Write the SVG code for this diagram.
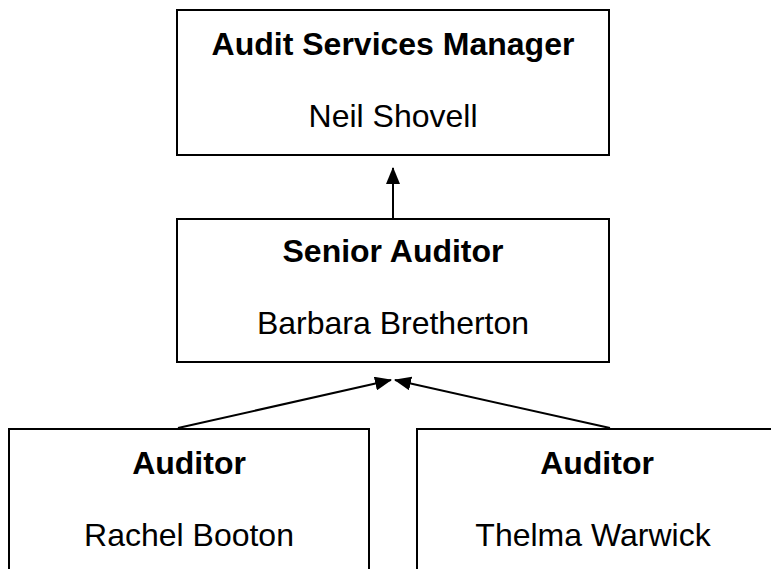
<svg xmlns="http://www.w3.org/2000/svg" width="771" height="569" viewBox="0 0 771 569">
<style>
.box{fill:#fff;stroke:#000;stroke-width:2}
.t{font-family:"Liberation Sans",Arial,sans-serif;font-size:32px;fill:#000;text-anchor:middle}
.b{font-weight:bold}
.c{stroke:#000;stroke-width:2;fill:none}
</style>
<defs>
<marker id="ah" markerWidth="17" markerHeight="14" refX="16" refY="7" orient="auto" markerUnits="userSpaceOnUse">
<path d="M0,0 L17,7 L0,14 Z" fill="#000"/>
</marker>
</defs>
<rect width="771" height="569" fill="#fff"/>
<g id="manager">
<rect class="box" x="177" y="10" width="432" height="145"/>
<text class="t b" x="393" y="55">Audit Services Manager</text>
<text class="t" x="393" y="127">Neil Shovell</text>
</g>
<g id="senior">
<rect class="box" x="177" y="219" width="432" height="143"/>
<text class="t b" x="393" y="262">Senior Auditor</text>
<text class="t" x="393" y="334">Barbara Bretherton</text>
</g>
<g id="auditor1">
<path class="box" d="M9,571 V429 H369 V571"/>
<text class="t b" x="189" y="474">Auditor</text>
<text class="t" x="189" y="546">Rachel Booton</text>
</g>
<g id="auditor2">
<path class="box" d="M417,571 V429 H773"/>
<text class="t b" x="597" y="474">Auditor</text>
<text class="t" x="593" y="546">Thelma Warwick</text>
</g>
<g id="connectors">
<line class="c" x1="393" y1="218" x2="393" y2="168" marker-end="url(#ah)"/>
<line class="c" x1="178" y1="428" x2="391" y2="380" marker-end="url(#ah)"/>
<line class="c" x1="610" y1="428" x2="395" y2="380" marker-end="url(#ah)"/>
</g>
</svg>
